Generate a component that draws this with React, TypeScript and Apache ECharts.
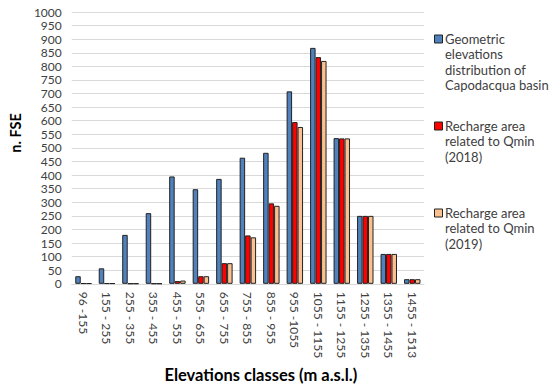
import React, { useEffect, useRef } from "react";
import * as echarts from "echarts";

const categories = [
  "96 -155", "155 - 255", "255 - 355", "355 - 455", "455 - 555",
  "555 - 655", "655 - 755", "755 - 855", "855 - 955", "955 -1055",
  "1055 - 1155", "1155 - 1255", "1255 - 1355", "1355 - 1455", "1455 - 1513",
];
const geometric = [28, 57, 180, 260, 395, 348, 386, 464, 482, 708, 868, 536, 250, 110, 17];
const recharge2018 = [2, 2, 1, 1, 10, 28, 76, 178, 296, 595, 834, 535, 250, 110, 17];
const recharge2019 = [2, 2, 1, 1, 12, 28, 76, 171, 287, 577, 820, 535, 250, 110, 17];
const seriesNames = [
  "Geometric elevations distribution of Capodacqua basin",
  "Recharge area related to Qmin (2018)",
  "Recharge area related to Qmin (2019)",
];
const legendLines = [
  ["Geometric", "elevations", "distribution of", "Capodacqua basin"],
  ["Recharge area", "related to Qmin", "(2018)"],
  ["Recharge area", "related to Qmin", "(2019)"],
];
const colors = ["#4F81BD", "#FF0000", "#FAC090"];

const FONT = "Lato, 'Noto Sans', sans-serif";

export default function App() {
  const ref = useRef<HTMLDivElement>(null);
  useEffect(() => {
    if (!ref.current) return;
    const chart = echarts.init(ref.current, undefined, { renderer: "svg" });
    const legendTops = [31, 118, 205];
    const lh = 15.4;
    const graphics: any[] = [];
    legendLines.forEach((lines, i) => {
      graphics.push({
        type: "rect",
        left: 434,
        top: legendTops[i] + 3.5,
        shape: { width: 8, height: 8 },
        style: { fill: colors[i], stroke: "#222", lineWidth: 1 },
      });
      graphics.push({
        type: "text",
        left: 445,
        top: legendTops[i],
        style: {
          text: lines.join("\n"),
          font: `13px ${FONT}`,
          fill: "#404040",
          lineHeight: lh,
        },
      });
    });
    chart.setOption({
      animation: false,
      textStyle: { fontFamily: FONT },
      grid: { left: 62, right: 126, top: 12, bottom: 98.5, containLabel: false },
      xAxis: {
        type: "category",
        data: categories,
        axisLine: { show: true, lineStyle: { color: "#d9d9d9", width: 1 } },
        axisTick: { show: false },
        axisLabel: {
          rotate: -90,
          margin: 8,
          color: "#404040",
          fontSize: 12,
          fontFamily: FONT,
          interval: 0,
        },
        name: "Elevations classes (m a.s.l.)",
        nameLocation: "middle",
        nameGap: 76,
        nameTextStyle: {
          fontSize: 16.5,
          fontWeight: "bold",
          color: "#000",
          fontFamily: FONT,
          padding: [0, 0, 0, 26],
        },
      },
      yAxis: {
        type: "value",
        min: 0,
        max: 1000,
        interval: 50,
        axisLine: { show: false },
        axisTick: { show: false },
        splitLine: { lineStyle: { color: "#d9d9d9", width: 1 } },
        axisLabel: {
          color: "#404040",
          fontSize: 12,
          margin: 10,
          fontFamily: FONT,
          formatter: (v: number) => String(v),
        },
        name: "n. FSE",
        nameLocation: "middle",
        nameRotate: 90,
        nameGap: 46,
        nameTextStyle: {
          fontSize: 14.5,
          fontWeight: "bold",
          color: "#000",
          fontFamily: FONT,
          padding: [0, 0, 0, 30],
        },
      },
      series: [geometric, recharge2018, recharge2019].map((d, i) => ({
        name: seriesNames[i],
        type: "bar",
        data: d,
        barGap: "0%",
        barCategoryGap: "30%",
        itemStyle: { color: colors[i], borderColor: "#222", borderWidth: 1 },
      })),
      graphic: graphics,
    });
    return () => chart.dispose();
  }, []);
  return (
    <div
      ref={ref}
      style={{ position: "fixed", left: 0, top: 0, width: 550, height: 388, background: "#fff" }}
    />
  );
}
